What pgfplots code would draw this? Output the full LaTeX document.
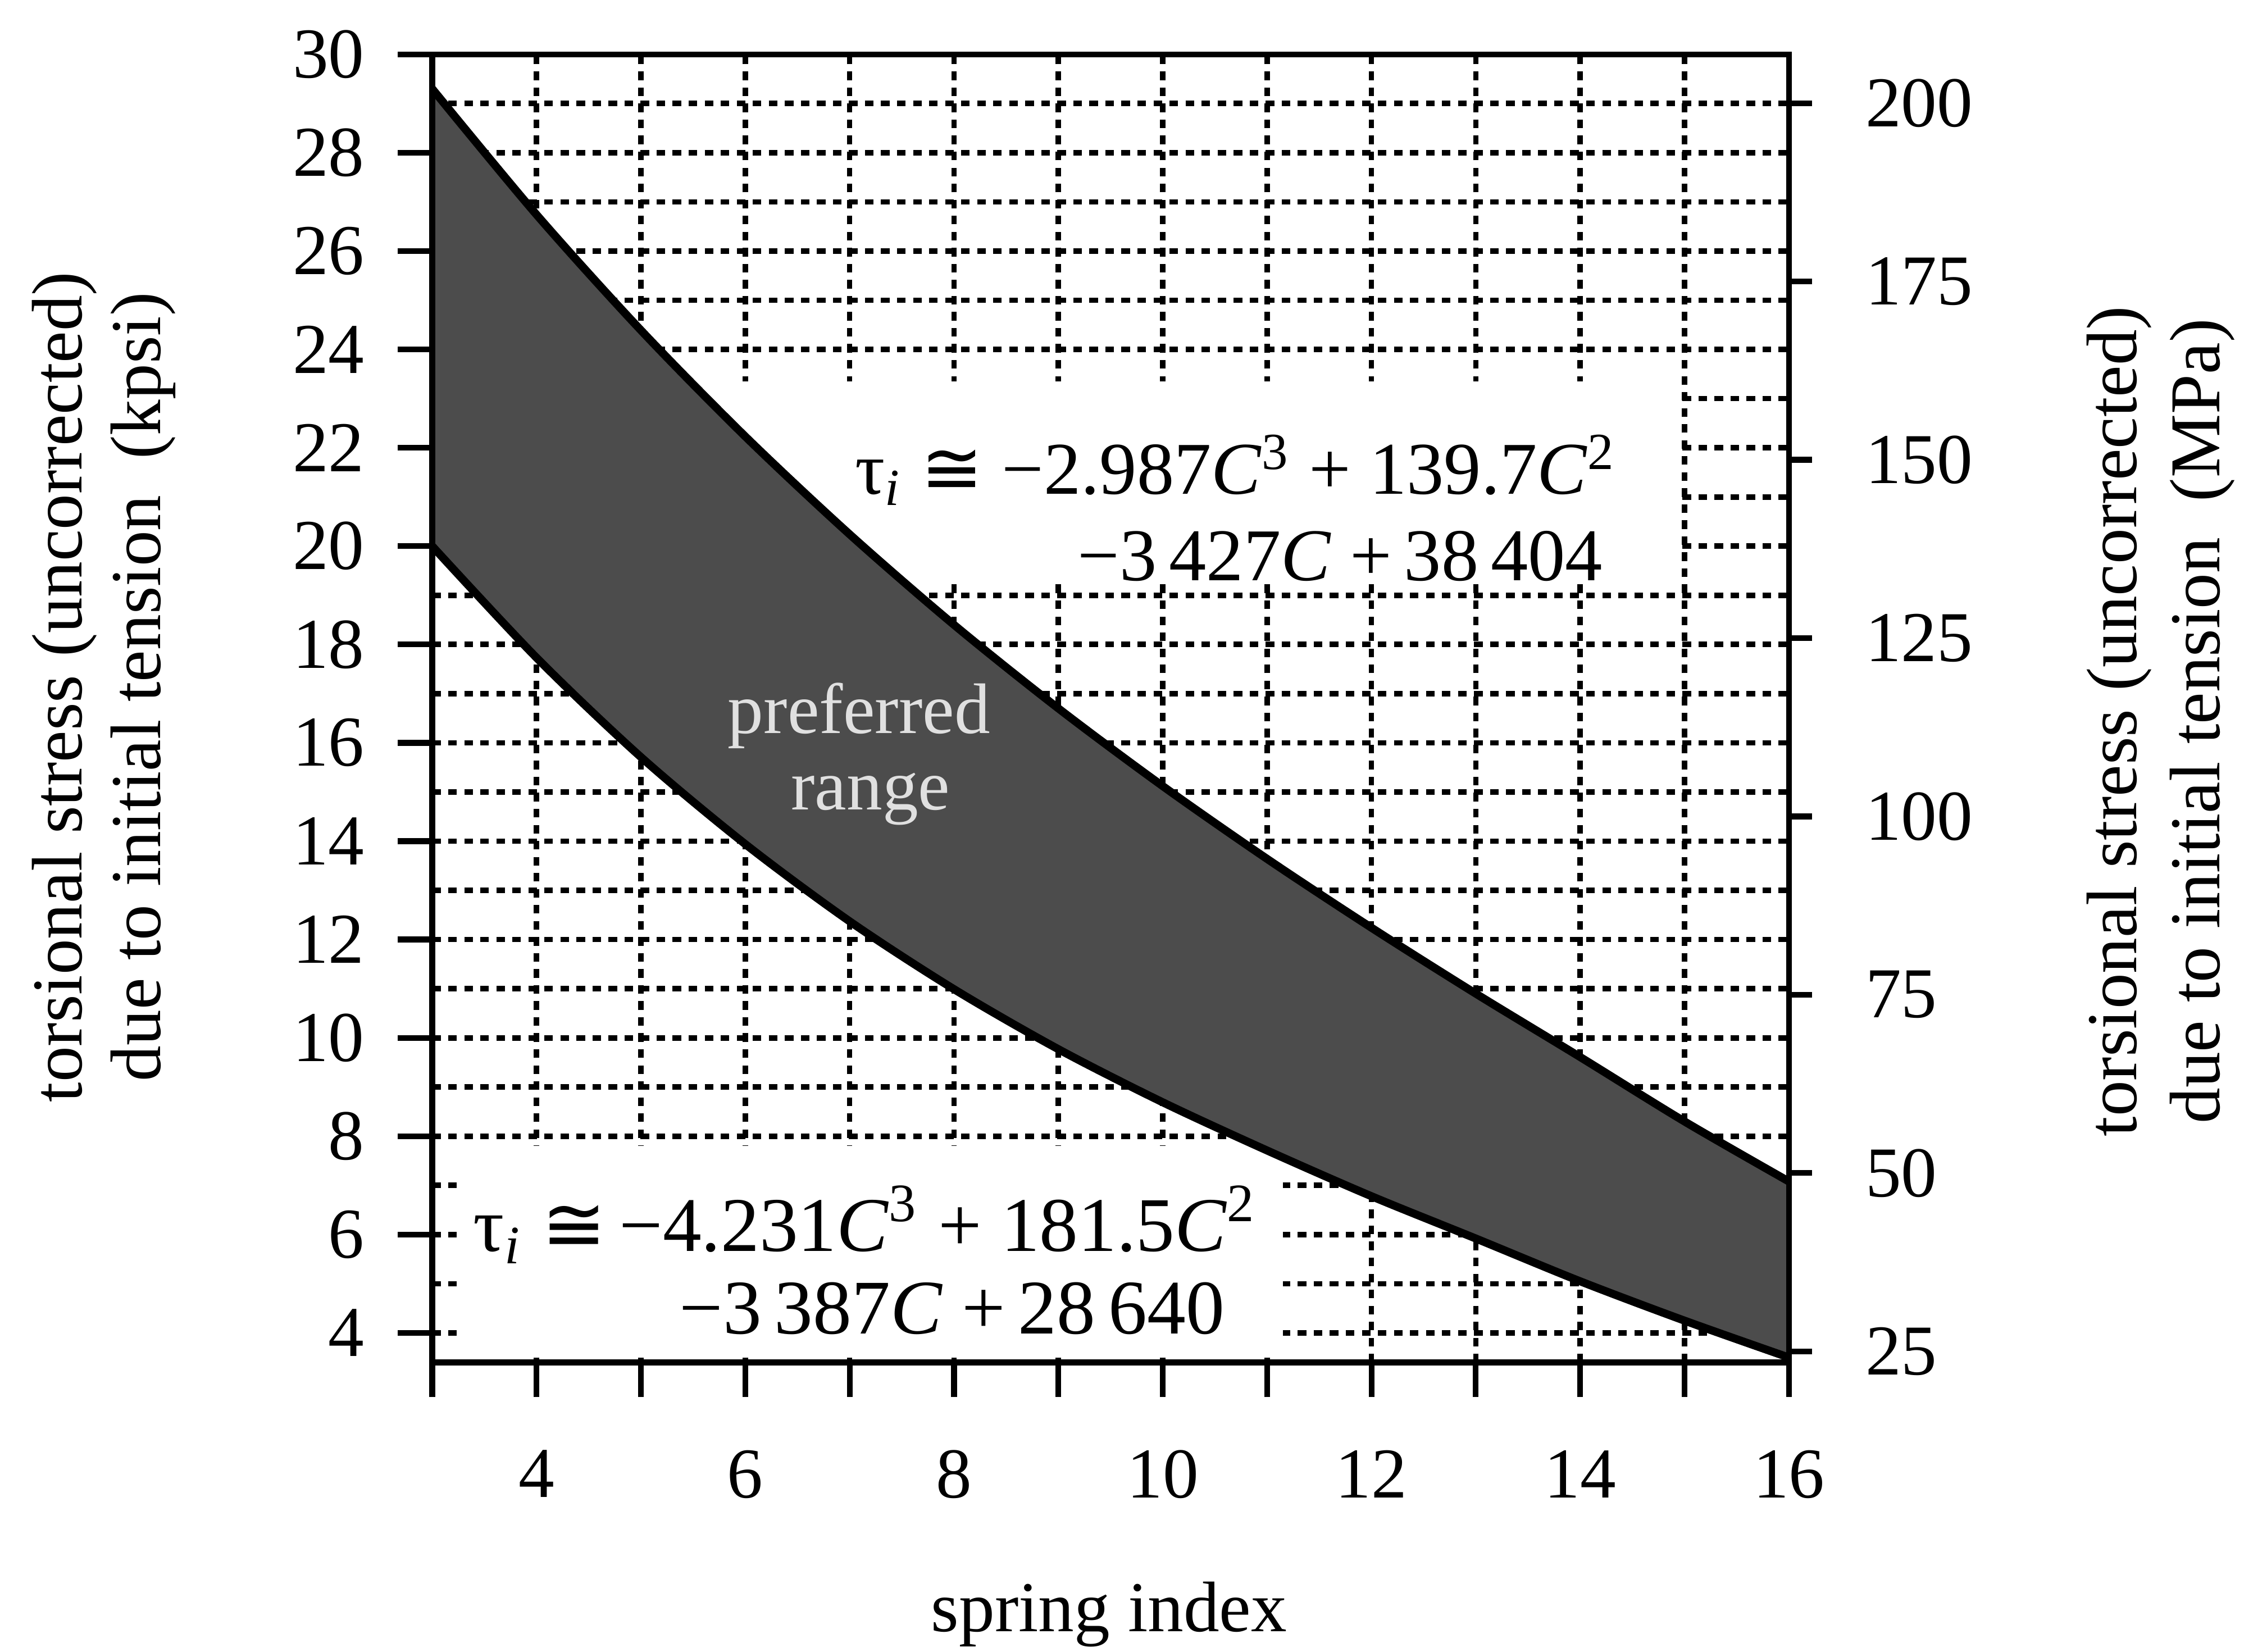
\documentclass[border=0pt]{standalone}
\usepackage{fontspec}
\setmainfont{Liberation Serif}
\newfontfamily\symfont{DejaVu Sans}
\usepackage{pgfplots}
\usepackage{pgfplotstable}
\pgfplotsset{compat=1.18}

\pgfplotstableread{
C up
3 29.30
4 26.74
5 24.39
6 22.23
7 20.24
8 18.40
9 16.70
10 15.12
11 13.64
12 12.24
13 10.90
14 9.61
15 8.30
16 7.08
}\uppertable

\pgfplotstableread{
C lo
3 20.00
4 17.73
5 15.71
6 13.94
7 12.37
8 10.99
9 9.77
10 8.69
11 7.71
12 6.78
13 5.92
14 5.05
15 4.25
16 3.50
}\lowertable

\pgfplotstableread{
C t
3 29.30
4 26.74
5 24.39
6 22.23
7 20.24
8 18.40
9 16.70
10 15.12
11 13.64
12 12.24
13 10.90
14 9.61
15 8.30
16 7.08
16 3.50
15 4.25
14 5.05
13 5.92
12 6.78
11 7.71
10 8.69
9 9.77
8 10.99
7 12.37
6 13.94
5 15.71
4 17.73
3 20.00
}\bandtable

\begin{document}
\fontsize{12.5}{14}\selectfont
\begin{tikzpicture}
\path[use as bounding box] (-75.5pt,-50.5pt) rectangle (316.5pt,238pt);
\begin{axis}[
  at={(0pt,0pt)}, anchor=south west, scale only axis,
  width=237pt, height=228.5pt,
  xmin=3, xmax=16, ymin=3.4, ymax=30,
  axis line style={line width=1pt},
  xtick={3,...,16},
  xticklabels={,4,,6,,8,,10,,12,,14,,16},
  ytick={4,6,...,30},
  minor ytick={5,7,...,29},
  xtick pos=bottom, ytick pos=left,
  tick align=outside,
  major tick length=6pt,
  tick style={line width=1pt, black},
  minor tick length=0pt,
  grid=both,
  major grid style={black, line width=0.95pt, dash pattern=on 1.5pt off 1.3pt},
  minor grid style={black, line width=0.95pt, dash pattern=on 1.5pt off 1.3pt},
  /pgf/number format/assume math mode=true,
  xticklabel style={font=\fontsize{12.5}{14}\selectfont, yshift=-5pt},
  yticklabel style={font=\fontsize{12.5}{14}\selectfont, xshift=-1.5pt},
  clip=false,
]
\addplot[draw=none, fill=white, forget plot] coordinates {(5,19.25) (14.92,19.25) (14.92,23.35) (5,23.35)} -- cycle;
\addplot[draw=none, fill=white, forget plot] coordinates {(3.3,3.5) (11.15,3.5) (11.15,7.8) (3.3,7.8)} -- cycle;

\addplot[fill=black!70, draw=none] table[x=C,y=t]{\bandtable} -- cycle;
\addplot[black, line width=1.4pt, smooth] table[x=C,y=up]{\uppertable};
\addplot[black, line width=1.4pt, smooth] table[x=C,y=lo]{\lowertable};
\addplot[black, line width=1pt] coordinates {(3,20.00) (3,29.30)};
\addplot[black, line width=1pt] coordinates {(16,3.50) (16,7.08)};

\node[text=black!12, font=\fontsize{12.5}{14}\selectfont] at (axis cs:7.09,16.55) {preferred};
\node[text=black!12, font=\fontsize{12.5}{14}\selectfont] at (axis cs:7.2,14.86) {range};

\node[font=\fontsize{13}{15}\selectfont, inner sep=1pt] at (axis cs:10.7,21.55)
  {τ\textsubscript{\textit{i}}\ {\symfont ≅}\ −2.987\textit{C}\textsuperscript{3} + 139.7\textit{C}\textsuperscript{2}};
\node[font=\fontsize{13}{15}\selectfont, inner sep=1pt] at (axis cs:11.7,19.8)
  {−3\,427\textit{C} +\,38\,404};
\node[font=\fontsize{13.5}{15}\selectfont, inner sep=1pt] at (axis cs:7.15,6.2)
  {τ\textsubscript{\textit{i}}\ {\symfont ≅}\,−4.231\textit{C}\textsuperscript{3} + 181.5\textit{C}\textsuperscript{2}};
\node[font=\fontsize{13.5}{15}\selectfont, inner sep=1pt] at (axis cs:7.98,4.5)
  {−3\,387\textit{C} +\,28\,640};
\end{axis}

\begin{axis}[
  at={(0pt,0pt)}, anchor=south west, scale only axis,
  width=237pt, height=228.5pt,
  xmin=3, xmax=16, ymin=23.443, ymax=206.85,
  axis x line=none,
  axis y line*=right,
  axis line style={line width=1pt, -},
  ytick={25,50,...,200},
  tick align=outside,
  major tick length=4pt,
  tick style={line width=1pt, black},
  /pgf/number format/assume math mode=true,
  yticklabel style={font=\fontsize{12.5}{14}\selectfont, xshift=5pt},
]
\addplot[draw=none] coordinates {(3,25) (16,200)};
\end{axis}

\node[rotate=90, align=center, font=\fontsize{12.5}{13.75}\selectfont] at (-57.4pt,118pt)
  {torsional stress (uncorrected)\\due to initial tension\ \ (kpsi)};
\node[rotate=90, align=center, font=\fontsize{12.5}{14.5}\selectfont] at (302pt,112pt)
  {torsional stress (uncorrected)\\due to initial tension\ \ (MPa)};
\node[font=\fontsize{12.5}{14}\selectfont] at (118.25pt,-44pt) {spring index};
\end{tikzpicture}
\end{document}
